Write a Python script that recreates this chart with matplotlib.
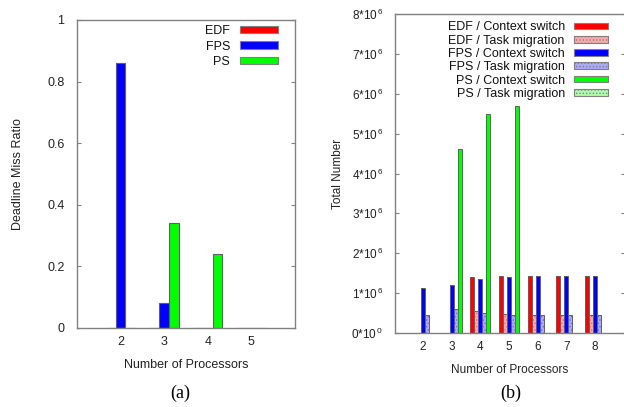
import numpy as np
import matplotlib
matplotlib.use('Agg')
import matplotlib.pyplot as plt

plt.rcParams['font.family'] = ['Liberation Sans', 'DejaVu Sans']
plt.rcParams['hatch.linewidth'] = 0.6

# (a) deadline miss ratio
procs_a = [2, 3, 4, 5]
miss_edf = [0.0, 0.0, 0.0, 0.0]
miss_fps = [0.86, 0.08, 0.0, 0.0]
miss_ps = [0.0, 0.34, 0.24, 0.0]

# (b) context switches / task migrations
procs_b = [2, 3, 4, 5, 6, 7, 8]
edf_cs = [0.0, 0.0, 1.40e6, 1.43e6, 1.44e6, 1.44e6, 1.44e6]
edf_tm = [0.0, 0.0, 0.55e6, 0.47e6, 0.46e6, 0.46e6, 0.46e6]
fps_cs = [1.13e6, 1.21e6, 1.35e6, 1.41e6, 1.43e6, 1.44e6, 1.44e6]
fps_tm = [0.46e6, 0.60e6, 0.50e6, 0.46e6, 0.46e6, 0.46e6, 0.46e6]
ps_cs = [0.0, 4.62e6, 5.48e6, 5.69e6, 0.0, 0.0, 0.0]
ps_tm = [0.0, 0.0, 0.0, 0.0, 0.0, 0.0, 0.0]

W, H = 624, 407
fig = plt.figure(figsize=(W / 100, H / 100), dpi=100)

def axes_px(l, t, r, b):
    return fig.add_axes([l / W, 1 - b / H, (r - l) / W, (b - t) / H])

frame = '#808080'
edge = '#606060'

def style(ax):
    for s in ax.spines.values():
        s.set_color(frame)
        s.set_linewidth(1.0)
    ax.tick_params(axis='x', length=0, pad=6, labelsize=9, colors='#222222')
    ax.tick_params(axis='y', direction='in', length=3, left=True, right=True,
                   labelleft=True, labelright=False, color=frame, pad=9,
                   labelsize=9, labelcolor='#222222')

# ---- (a) ----
ax1 = axes_px(77, 20, 295, 328)
w = 0.22
x = np.array(procs_a, dtype=float)
ax1.bar(x - w, miss_edf, w, color='#ff0000', edgecolor=edge, linewidth=0.8, label='EDF')
ax1.bar(x, miss_fps, w, color='#0000ff', edgecolor=edge, linewidth=0.8, label='FPS')
ax1.bar(x + w, miss_ps, w, color='#00ff00', edgecolor=edge, linewidth=0.8, label='PS')
ax1.set_xlim(1, 6)
ax1.set_ylim(0, 1)
ax1.set_xticks(procs_a)
ax1.set_yticks([0, 0.2, 0.4, 0.6, 0.8, 1])
ax1.set_yticklabels(['0', '0.2', '0.4', '0.6', '0.8', '1'])
style(ax1)
ax1.set_xlabel('Number of Processors', fontsize=9, color='#222222', labelpad=8)
ax1.set_ylabel('Deadline Miss Ratio', fontsize=9, color='#222222', labelpad=17)
leg1 = ax1.legend(loc='upper right', bbox_to_anchor=(0.958, 1.008), frameon=False,
                  fontsize=9, markerfirst=False, handlelength=3.1, handleheight=0.55,
                  handletextpad=0.75, labelspacing=0.28, borderaxespad=0.2)
for t in leg1.get_texts():
    t.set_color('#111111')
for p in leg1.get_patches():
    p.set_edgecolor(frame)
leg1._legend_box.align = 'right'

# ---- (b) ----
ax2 = axes_px(394.5, 14, 625, 333)
wb = 0.14
xb = np.array(procs_b, dtype=float)
series = [
    (edf_cs, -2, '#ff0000', None, '#ff0000', 'EDF / Context switch'),
    (edf_tm, -1, '#ffaaaa', '.....', '#ee6666', 'EDF / Task migration'),
    (fps_cs, 0, '#0000ff', None, '#0000ff', 'FPS / Context switch'),
    (fps_tm, 1, '#aaaaff', '.....', '#6666ee', 'FPS / Task migration'),
    (ps_cs, 2, '#00ff00', None, '#00ff00', 'PS / Context switch'),
    (ps_tm, 3, '#aaffaa', '.....', '#66dd66', 'PS / Task migration'),
]
for vals, k, fc, hatch, hc, lab in series:
    ax2.bar(xb + k * wb, vals, wb, color=fc, hatch=hatch, edgecolor=hc, linewidth=0)
    ax2.bar(xb + k * wb, vals, wb, fill=False, edgecolor=edge, linewidth=0.7)
    ax2.bar([0], [0], 0, color=fc, hatch=hatch, edgecolor=hc, linewidth=0, label=lab)
ax2.set_xlim(1, 9.05)
ax2.set_ylim(0, 8e6)
ax2.set_xticks(procs_b)
yt = np.arange(0, 9) * 1e6
ax2.set_yticks(yt)
ax2.set_yticklabels([r'$\mathregular{%d{*}10^{\,%d}}$' % (i, 6 if i else 0) for i in range(9)])
style(ax2)
ax2.tick_params(axis='y', labelsize=8.5, pad=8)
ax2.tick_params(axis='x', labelsize=8.5)
ax2.set_xlabel('Number of Processors', fontsize=8.5, color='#222222', labelpad=8)
ax2.set_ylabel('Total Number', fontsize=8.5, color='#222222', labelpad=5)
leg2 = ax2.legend(loc='upper right', bbox_to_anchor=(0.957, 1.0), frameon=False,
                  fontsize=9, markerfirst=False, handlelength=2.67, handleheight=0.45,
                  handletextpad=0.75, labelspacing=0.1, borderaxespad=0.2)
for p in leg2.get_patches():
    p.set_edgecolor(frame)
    p.set_linewidth(0.8)
leg2._legend_box.align = 'right'
for t in leg2.get_texts():
    t.set_color('#111111')

fig.text(180 / W, 1 - 393 / H, '(a)', family='Liberation Serif', fontsize=13,
         ha='center', va='center')
fig.text(511 / W, 1 - 393 / H, '(b)', family='Liberation Serif', fontsize=13,
         ha='center', va='center')

fig.savefig('out.png', dpi=100)
